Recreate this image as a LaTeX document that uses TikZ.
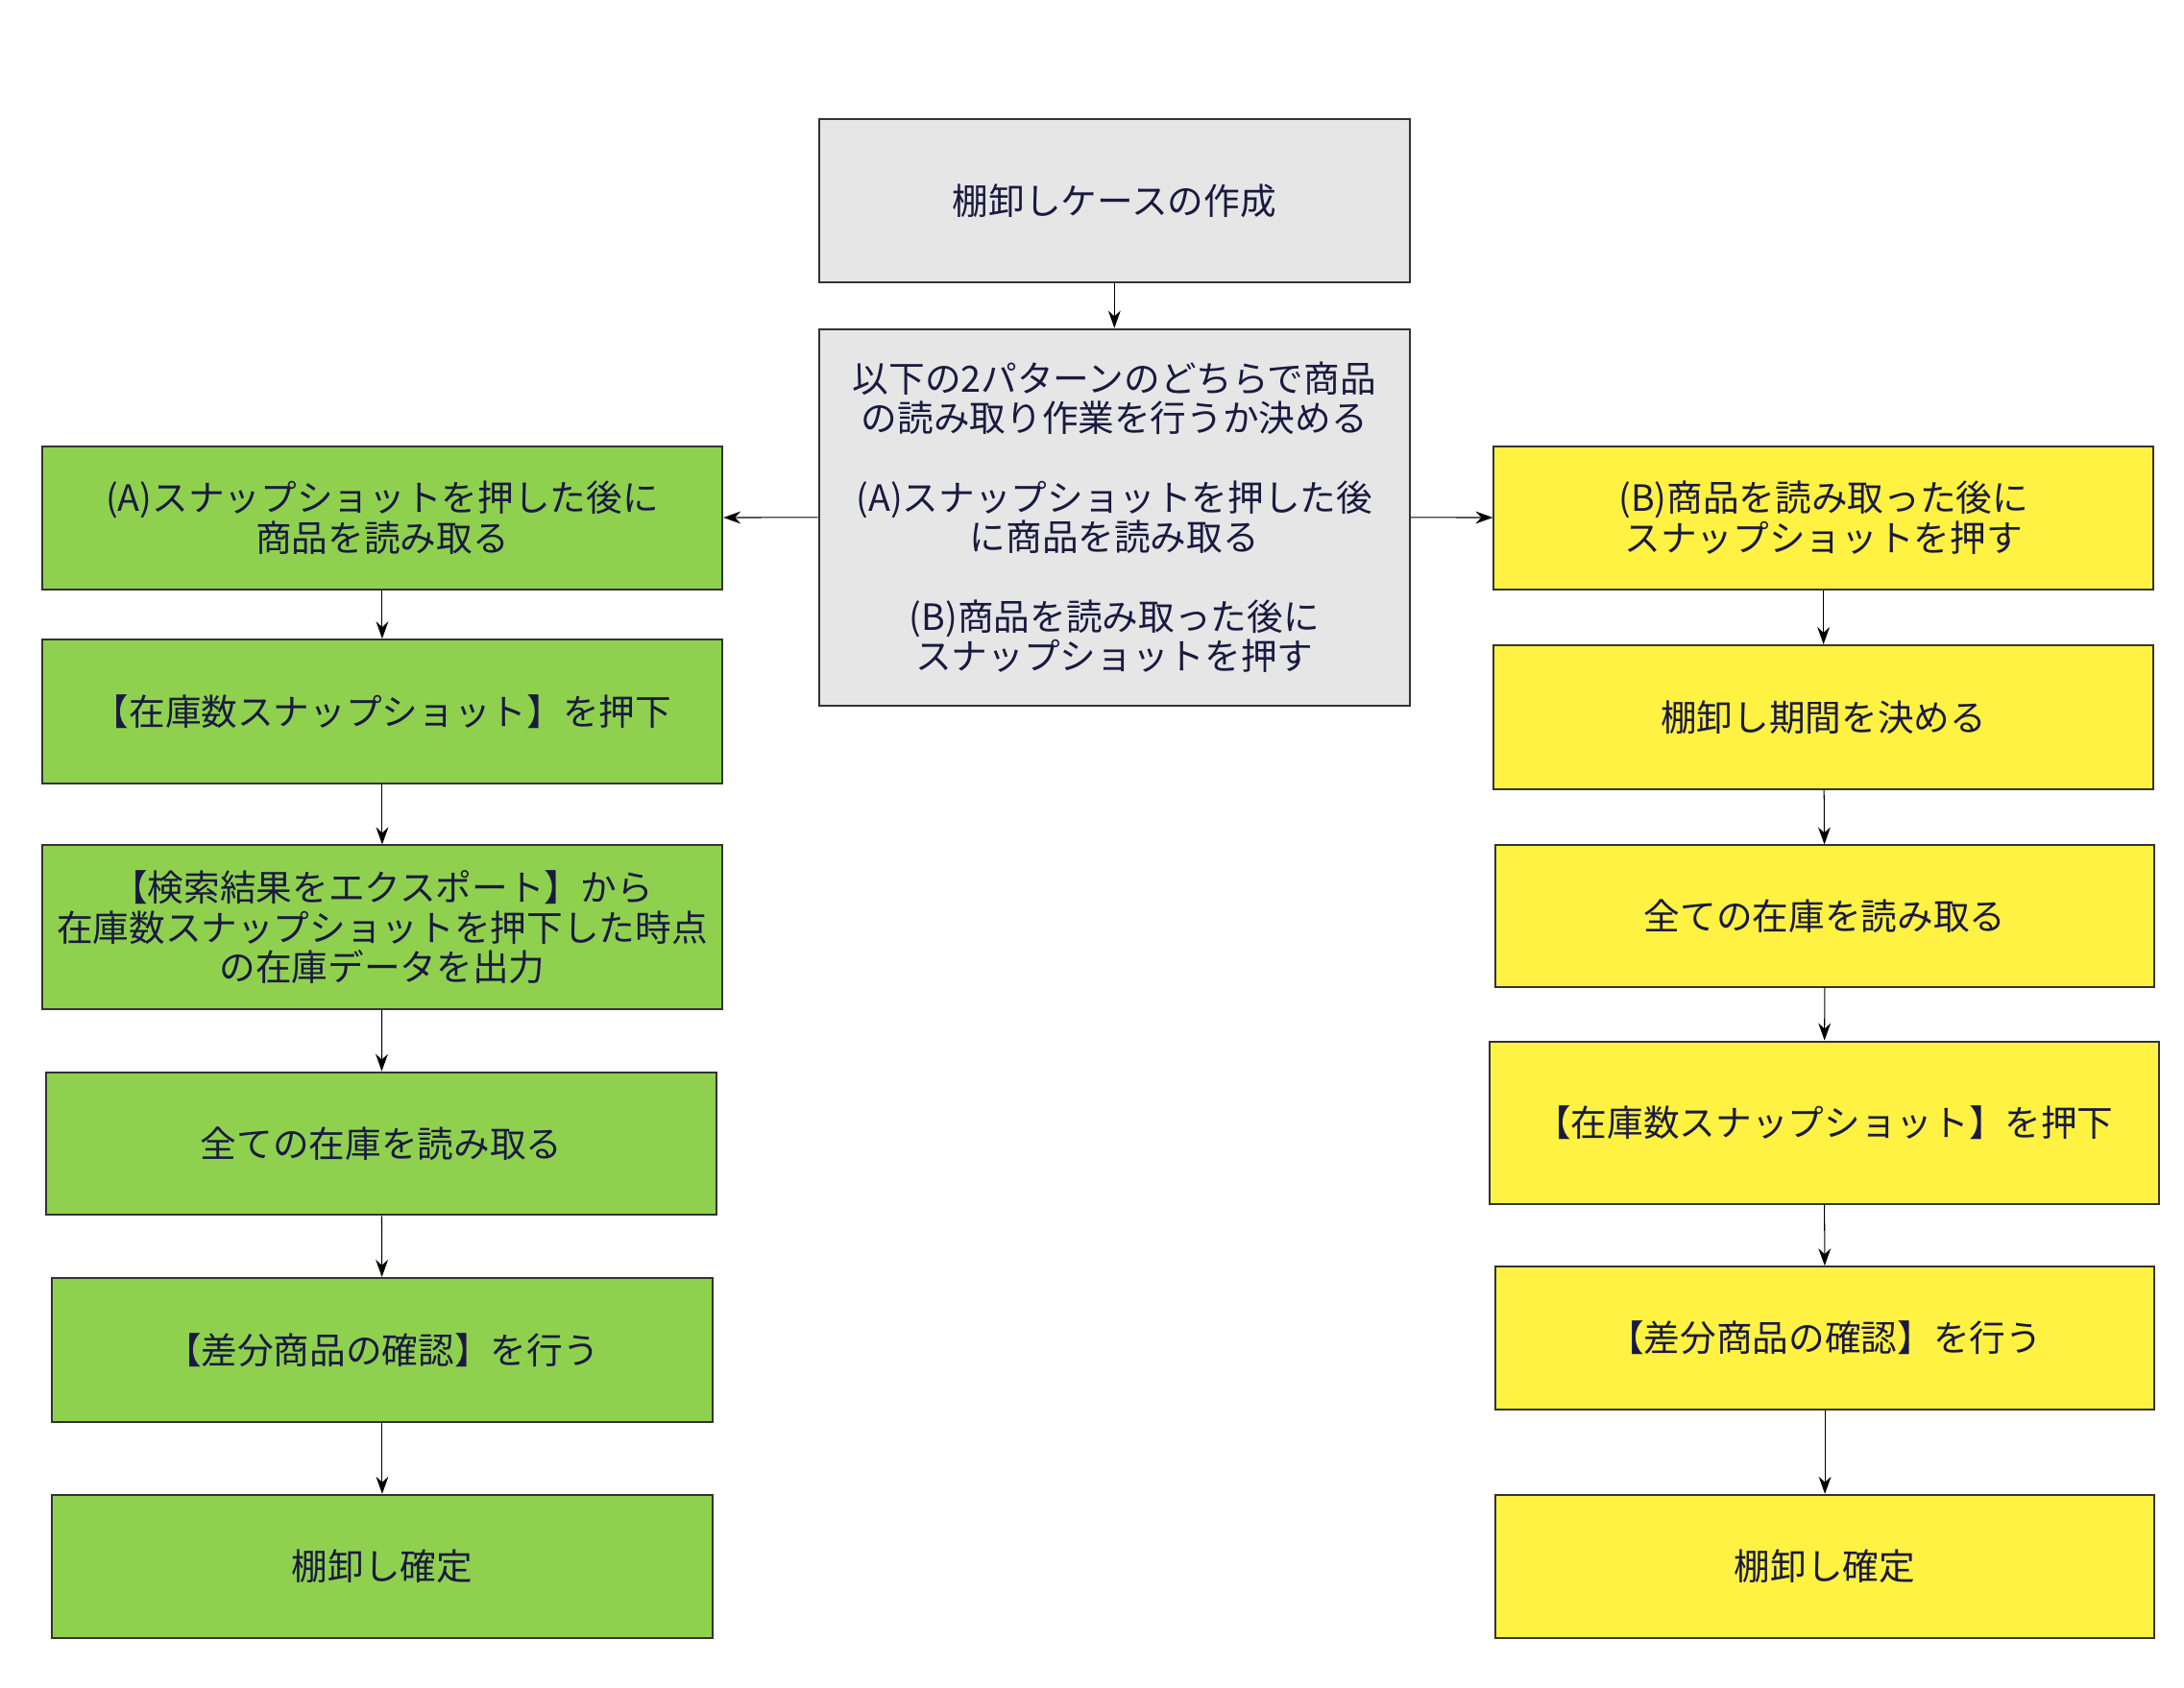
\documentclass[tikz,border=0pt]{standalone}
\usepackage{fontspec}
\setmainfont{Noto Sans CJK JP}
\usetikzlibrary{arrows.meta}
\definecolor{boxgray}{HTML}{E6E6E6}
\definecolor{boxgreen}{HTML}{8FD14F}
\definecolor{boxyellow}{HTML}{FFF242}
\definecolor{inktext}{HTML}{1A1A40}
\tikzset{
  box/.style={draw=black!80, line width=0.8pt, rectangle, align=center, inner sep=0pt,
    text=inktext, font=\fontsize{14.7}{16.2}\selectfont},
  graybox/.style={box, fill=boxgray, minimum width=8.44cm},
  greenbox/.style={box, fill=boxgreen},
  yellowbox/.style={box, fill=boxyellow},
  >={Stealth[length=7pt,width=5pt]}
}
\begin{document}
\begin{tikzpicture}
    \useasboundingbox (0,0) rectangle (31.2,-24.12);
    % center
    \node[graybox, minimum height=2.34cm] (T) at (15.92,-2.87) {棚卸しケースの作成};
    \node[graybox, minimum height=5.38cm] (M) at (15.92,-7.39)
      {以下の2パターンのどちらで商品\\の読み取り作業を行うか決める\\[16pt]
       (A)スナップショットを押した後\\に商品を読み取る\\[16pt]
       (B)商品を読み取った後に\\スナップショットを押す};
    \draw[->] (T) to (M);
    % pattern A
    \node[greenbox, minimum width=9.72cm, minimum height=2.04cm] (A1) at (5.46,-7.40) {(A)スナップショットを押した後に\\商品を読み取る};
    \node[greenbox, minimum width=9.72cm, minimum height=2.06cm] (A2) at (5.46,-10.17) {【在庫数スナップショット】を押下};
    \node[greenbox, minimum width=9.72cm, minimum height=2.34cm] (A3) at (5.46,-13.25) {【検索結果をエクスポート】から\\在庫数スナップショットを押下した時点\\の在庫データを出力};
    \node[greenbox, minimum width=9.58cm, minimum height=2.04cm] (A4) at (5.45,-16.34) {全ての在庫を読み取る};
    \node[greenbox, minimum width=9.44cm, minimum height=2.06cm] (A5) at (5.46,-19.29) {【差分商品の確認】を行う};
    \node[greenbox, minimum width=9.44cm, minimum height=2.04cm] (A6) at (5.46,-22.38) {棚卸し確定};
    \draw[->] (M) to (A1);
    \draw[->] (A1) to (A2);
    \draw[->] (A2) to (A3);
    \draw[->] (A3) to (A4);
    \draw[->] (A4) to (A5);
    \draw[->] (A5) to (A6);
    % pattern B
    \node[yellowbox, minimum width=9.42cm, minimum height=2.04cm] (B1) at (26.05,-7.40) {(B)商品を読み取った後に\\スナップショットを押す};
    \node[yellowbox, minimum width=9.42cm, minimum height=2.06cm] (B2) at (26.05,-10.25) {棚卸し期間を決める};
    \node[yellowbox, minimum width=9.42cm, minimum height=2.02cm] (B3) at (26.07,-13.09) {全ての在庫を読み取る};
    \node[yellowbox, minimum width=9.56cm, minimum height=2.32cm] (B4) at (26.06,-16.04) {【在庫数スナップショット】を押下};
    \node[yellowbox, minimum width=9.42cm, minimum height=2.04cm] (B5) at (26.07,-19.12) {【差分商品の確認】を行う};
    \node[yellowbox, minimum width=9.42cm, minimum height=2.04cm] (B6) at (26.07,-22.38) {棚卸し確定};
    \draw[->] (M) to (B1);
    \draw[->] (B1) to (B2);
    \draw[->] (B2) to (B3);
    \draw[->] (B3) to (B4);
    \draw[->] (B4) to (B5);
    \draw[->] (B5) to (B6);
\end{tikzpicture}
\end{document}
